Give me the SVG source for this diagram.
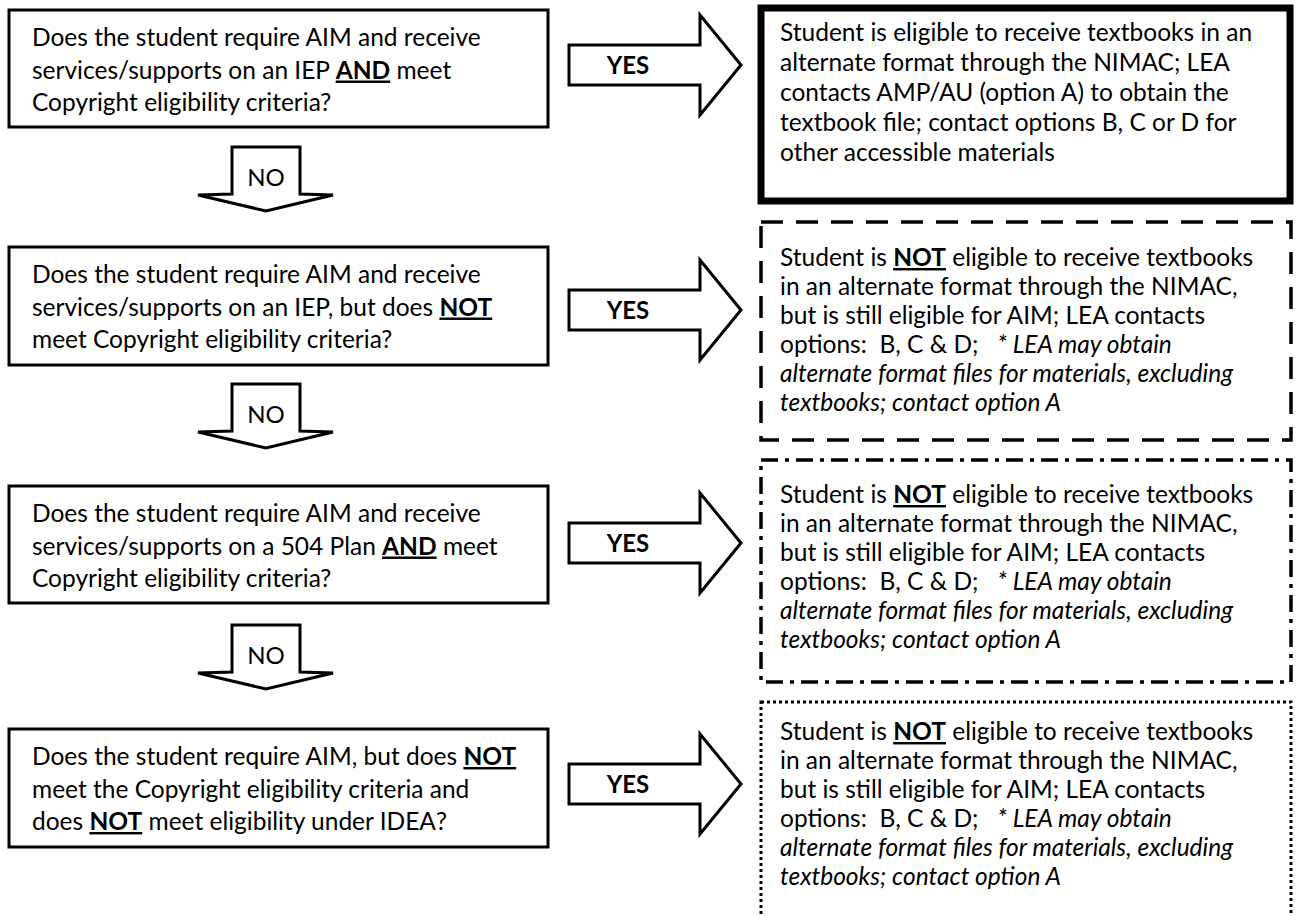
<svg xmlns="http://www.w3.org/2000/svg" width="1296" height="916" viewBox="0 0 1296 916">
<style>
text{font-family:Lato,"Liberation Sans",sans-serif;font-size:24.5px;fill:#000;white-space:pre}
.b{font-weight:bold;text-decoration:underline}
.i{font-style:italic}
.q{fill:#fff;stroke:#000;stroke-width:3}
.arr{fill:#fff;stroke:#000;stroke-width:3;stroke-linejoin:miter}
.lbl{font-size:24px;text-anchor:middle}
.yes{font-weight:bold;font-size:24px;text-anchor:middle}
</style>
<rect width="1296" height="916" fill="#fff"/>
<g id="connectors">
<path class="arr" d="M232,147H300V194L333,195L266,211L198,195L232,194Z"/>
<text class="lbl" x="266" y="186">NO</text>
<path class="arr" d="M232,384H300V431L333,432L266,448L198,432L232,431Z"/>
<text class="lbl" x="266" y="423">NO</text>
<path class="arr" d="M232,625H300V672L333,673L266,689L198,673L232,672Z"/>
<text class="lbl" x="266" y="664">NO</text>
<path class="arr" d="M569,45H700V15L741,65L700,115V85H569Z"/>
<text class="yes" x="628" y="74">YES</text>
<path class="arr" d="M569,290H700V260L741,310L700,360V330H569Z"/>
<text class="yes" x="628" y="319">YES</text>
<path class="arr" d="M569,523H700V493L741,543L700,593V563H569Z"/>
<text class="yes" x="628" y="552">YES</text>
<path class="arr" d="M569,764H700V734L741,784L700,834V804H569Z"/>
<text class="yes" x="628" y="793">YES</text>
</g>
<g id="q1">
<rect class="q" x="9" y="10" width="539" height="117"/>
<text x="32" y="46">Does the student require AIM and receive</text>
<text x="32" y="78.5">services/supports on an IEP <tspan class="b">AND</tspan> meet</text>
<text x="32" y="111">Copyright eligibility criteria?</text>
</g>
<g id="q2">
<rect class="q" x="9" y="247" width="539" height="118"/>
<text x="32" y="283">Does the student require AIM and receive</text>
<text x="32" y="315.5">services/supports on an IEP, but does <tspan class="b">NOT</tspan></text>
<text x="32" y="348">meet Copyright eligibility criteria?</text>
</g>
<g id="q3">
<rect class="q" x="9" y="486" width="539" height="117"/>
<text x="32" y="522">Does the student require AIM and receive</text>
<text x="32" y="554.5">services/supports on a 504 Plan <tspan class="b">AND</tspan> meet</text>
<text x="32" y="587">Copyright eligibility criteria?</text>
</g>
<g id="q4">
<rect class="q" x="9" y="729" width="539" height="118"/>
<text x="32" y="765">Does the student require AIM, but does <tspan class="b">NOT</tspan></text>
<text x="32" y="797.5">meet the Copyright eligibility criteria and</text>
<text x="32" y="830">does <tspan class="b">NOT</tspan> meet eligibility under IDEA?</text>
</g>
<g id="r1">
<rect x="761" y="8" width="529" height="193" fill="#fff" stroke="#000" stroke-width="7"/>
<text x="780" y="41">Student is eligible to receive textbooks in an</text>
<text x="780" y="71">alternate format through the NIMAC; LEA</text>
<text x="780" y="101">contacts AMP/AU (option A) to obtain the</text>
<text x="780" y="131">textbook file; contact options B, C or D for</text>
<text x="780" y="161">other accessible materials</text>
</g>
<g id="r2">
<rect x="761" y="222" width="530" height="218" fill="#fff" stroke="#000" stroke-width="3.5" stroke-dasharray="22 13"/>
<text x="780" y="266">Student is <tspan class="b">NOT</tspan> eligible to receive textbooks</text>
<text x="780" y="295">in an alternate format through the NIMAC,</text>
<text x="780" y="324">but is still eligible for AIM; LEA contacts</text>
<text x="780" y="353">options:  B, C &amp; D;   <tspan class="i">* LEA may obtain</tspan></text>
<text x="780" y="382" class="i">alternate format files for materials, excluding</text>
<text x="780" y="411" class="i">textbooks; contact option A</text>
</g>
<g id="r3">
<rect x="761" y="460" width="530" height="222" fill="#fff" stroke="#000" stroke-width="3.5" stroke-dasharray="17 7 4 7"/>
<text x="780" y="503">Student is <tspan class="b">NOT</tspan> eligible to receive textbooks</text>
<text x="780" y="532">in an alternate format through the NIMAC,</text>
<text x="780" y="561">but is still eligible for AIM; LEA contacts</text>
<text x="780" y="590">options:  B, C &amp; D;   <tspan class="i">* LEA may obtain</tspan></text>
<text x="780" y="619" class="i">alternate format files for materials, excluding</text>
<text x="780" y="648" class="i">textbooks; contact option A</text>
</g>
<g id="r4">
<rect x="761" y="702" width="530" height="230" fill="#fff" stroke="#000" stroke-width="3" stroke-dasharray="3 3"/>
<text x="780" y="740">Student is <tspan class="b">NOT</tspan> eligible to receive textbooks</text>
<text x="780" y="769">in an alternate format through the NIMAC,</text>
<text x="780" y="798">but is still eligible for AIM; LEA contacts</text>
<text x="780" y="827">options:  B, C &amp; D;   <tspan class="i">* LEA may obtain</tspan></text>
<text x="780" y="856" class="i">alternate format files for materials, excluding</text>
<text x="780" y="885" class="i">textbooks; contact option A</text>
</g>
</svg>
